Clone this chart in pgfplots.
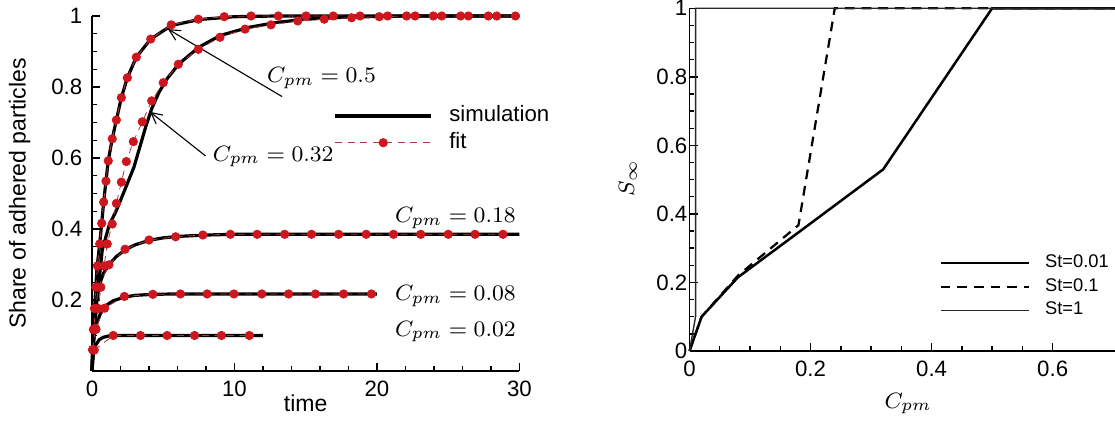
\documentclass[border=0pt]{standalone}
\usepackage{pgfplots}
\pgfplotsset{compat=1.18}
\usepackage{fontspec}
\setmainfont{Liberation Sans}
\usetikzlibrary{arrows.meta}
\definecolor{fitred}{RGB}{205,22,30}
\definecolor{fitline}{RGB}{170,60,60}

\pgfplotsset{
  tecaxis/.style={
    scale only axis,
    axis lines=left,
    axis line style={-, line width=0.7pt},
    every outer x axis line/.append style={-},
    every outer y axis line/.append style={-},
    tick align=inside,
    major tick length=3pt,
    minor tick length=1.7pt,
    every tick/.style={black, line width=0.5pt},
    /pgf/number format/assume math mode=true,
    tick label style={font=\fontsize{8}{9}\selectfont},
    clip=false,
  },
  sim/.style={black, line width=1.15pt},
  fit/.style={fitline, line width=0.3pt, dash pattern=on 2.5pt off 2pt,
    mark=*, mark size=1.5pt, mark options={solid, draw=fitred, fill=fitred}},
}

\begin{document}
\begin{tikzpicture}
\useasboundingbox (0,0) rectangle (401.4pt,151.56pt);
\clip (0,0) rectangle (401.4pt,151.56pt);

% left: share of adhered particles over time
\begin{axis}[tecaxis,
  at={(33.12pt,18pt)}, anchor=south west,
  width=153.9pt, height=127.8pt,
  xmin=0, xmax=30, ymin=0, ymax=1,
  xtick={0,10,20,30}, minor x tick num=4,
  ytick={0,0.2,0.4,0.6,0.8,1}, yticklabels={,0.2,0.4,0.6,0.8,1}, minor y tick num=3,
  xlabel={time}, ylabel={Share of adhered particles},
  xlabel style={at={(axis description cs:0.5,-0.092)}, anchor=center, font=\fontsize{8.3}{10}\selectfont},
  ylabel style={at={(axis description cs:-0.169,0.5)}, anchor=center, font=\fontsize{8.3}{10}\selectfont},
  legend style={at={(axis cs:16.35,0.765)}, anchor=north west, draw=none, fill=none,
    font=\fontsize{8}{9}\selectfont, column sep=6pt, row sep=2pt,
    nodes={inner sep=0pt, text height=5.8pt, text depth=1.8pt}},
  legend cell align=left,
  legend image code/.code={\draw[mark repeat=2,mark phase=2,#1] plot coordinates {(0pt,0pt) (17.2pt,0pt) (34.4pt,0pt)};},
]
% C_pm = 0.5
\addplot[sim] coordinates {(0,0) (0.05,0.06) (0.1,0.11) (0.2,0.19) (0.35,0.29) (0.54,0.358) (0.68,0.416) (0.82,0.476) (0.98,0.535) (1.14,0.592) (1.42,0.654) (1.71,0.707) (2.06,0.77) (2.48,0.826) (3.11,0.884) (4.12,0.935) (5.56,0.973) (7.5,0.99) (10,0.998) (13,1) (30,1)};
\addlegendentry{simulation}
\addplot[fit] coordinates {(0.05,0.06) (0.1,0.117) (0.17,0.176) (0.27,0.236) (0.38,0.296) (0.54,0.358) (0.68,0.416) (0.82,0.476) (0.98,0.535) (1.14,0.592) (1.42,0.654) (1.71,0.707) (2.06,0.77) (2.48,0.826) (3.11,0.884) (4.12,0.935) (5.56,0.975) (7.46,0.991) (9.28,0.998) (11.16,1) (13.07,1) (15.02,1) (16.93,1) (18.81,1) (20.75,1) (22.67,1) (24.54,1) (26.41,1) (28.4,1)};
\addlegendentry{fit}
% C_pm = 0.32
\addplot[sim, forget plot] coordinates {(0,0) (0.15,0.1) (0.35,0.2) (0.72,0.341) (1.2,0.41) (1.73,0.454) (2.4,0.52) (2.95,0.575) (3.35,0.63) (3.77,0.688) (4.2,0.74) (4.7,0.785) (5.3,0.825) (6.1,0.865) (7.5,0.912) (9,0.945) (11,0.968) (13,0.982) (15,0.991) (18,0.997) (22,1) (30,1)};
\addplot[fit, forget plot] coordinates {(0.1,0.06) (0.28,0.117) (0.45,0.176) (0.62,0.236) (0.85,0.296) (1.07,0.358) (1.42,0.414) (1.71,0.472) (2.06,0.532) (2.41,0.59) (2.9,0.646) (3.53,0.702) (4.19,0.761) (5.0,0.812) (6.06,0.864) (7.46,0.906) (8.98,0.94) (10.74,0.963) (12.56,0.975) (14.44,0.986) (16.3,0.991) (18.22,0.995) (20.16,0.998) (22.08,1) (23.95,1) (25.87,1) (27.81,1) (29.71,1)};
% C_pm = 0.18
\addplot[sim, forget plot] coordinates {(0,0) (0.05,0.07) (0.12,0.12) (0.25,0.18) (0.5,0.24) (0.8,0.275) (1.2,0.3) (1.7,0.322) (2.32,0.341) (3,0.355) (4,0.368) (5,0.375) (6,0.379) (8,0.383) (10,0.385) (30,0.385)};
\addplot[fit, forget plot] coordinates {(0.05,0.06) (0.12,0.117) (0.25,0.176) (0.45,0.236) (1.19,0.299) (2.32,0.343) (4.0,0.369) (5.87,0.378) (7.78,0.383) (9.71,0.385) (11.59,0.385) (13.52,0.385) (15.4,0.385) (17.31,0.385) (19.24,0.385) (21.16,0.385) (23.07,0.385) (25.0,0.385) (26.88,0.385) (28.84,0.385)};
% C_pm = 0.08
\addplot[sim, forget plot] coordinates {(0,0) (0.05,0.06) (0.15,0.1) (0.3,0.13) (0.6,0.163) (1,0.185) (1.5,0.198) (2.27,0.208) (3,0.213) (4.27,0.216) (6,0.217) (20,0.217)};
\addplot[fit, forget plot] coordinates {(0.05,0.06) (0.25,0.12) (0.89,0.177) (2.27,0.21) (4.27,0.216) (6.2,0.217) (8.08,0.217) (9.96,0.217) (11.92,0.217) (13.8,0.217) (15.68,0.217) (17.66,0.217) (19.61,0.217)};
% C_pm = 0.02
\addplot[sim, forget plot] coordinates {(0,0) (0.1,0.05) (0.25,0.072) (0.5,0.088) (0.8,0.095) (1.2,0.099) (2,0.1) (12,0.1)};
\addplot[fit, forget plot] coordinates {(0.16,0.059) (1.49,0.1) (3.4,0.1) (5.27,0.1) (7.2,0.1) (9.08,0.1) (11.04,0.1)};

\draw[line width=0.4pt, -{Straight Barb[length=4pt, width=4pt]}] (axis cs:13.34,0.773) -- (axis cs:5.33,0.963);
\draw[line width=0.4pt, -{Straight Barb[length=4pt, width=4pt]}] (axis cs:7.96,0.606) -- (axis cs:4.07,0.73);
\begin{scope}[every node/.style={font=\fontsize{8.5}{10}\selectfont, inner sep=0pt}]
\node at (axis cs:16.1,0.825) {$C_{pm}=0.5$};
\node at (axis cs:12.72,0.604) {$C_{pm}=0.32$};
\node at (axis cs:25.5,0.43) {$C_{pm}=0.18$};
\node at (axis cs:25.5,0.211) {$C_{pm}=0.08$};
\node at (axis cs:25.5,0.111) {$C_{pm}=0.02$};
\end{scope}
\end{axis}

% right: S_infinity against C_pm
\begin{axis}[tecaxis,
  at={(248.22pt,25.2pt)}, anchor=south west,
  width=153.18pt, height=123.37pt,
  xmin=0, xmax=0.703, ymin=0, ymax=1,
  xtick={0,0.2,0.4,0.6}, ytick={0,0.2,0.4,0.6,0.8,1},
  minor x tick num=3, minor y tick num=3,
  yticklabel style={inner sep=0.6pt},
  xlabel={$C_{pm}$}, ylabel={$S_\infty$},
  xlabel style={at={(axis description cs:0.514,-0.153)}, anchor=center, font=\fontsize{8.3}{10}\selectfont},
  ylabel style={at={(axis description cs:-0.145,0.504)}, anchor=center, font=\fontsize{8.3}{10}\selectfont},
  legend style={at={(axis cs:0.398,0.30)}, anchor=north west, draw=none, fill=none,
    font=\fontsize{6.6}{8}\selectfont, column sep=5.5pt, row sep=2.2pt,
    nodes={inner sep=0pt, text height=4.8pt, text depth=1.5pt}},
  legend cell align=left,
  legend image code/.code={\draw[#1] (0pt,0pt) -- (31.7pt,0pt);},
]
\addplot[black, line width=0.9pt] coordinates {(0,0) (0.02,0.1) (0.08,0.215) (0.18,0.346) (0.32,0.53) (0.5,1) (0.703,1)};
\addlegendentry{St=0.01}
\addplot[black, line width=0.8pt, dash pattern=on 3.5pt off 2.5pt] coordinates {(0,0) (0.02,0.1) (0.08,0.22) (0.18,0.367) (0.24,1) (0.703,1)};
\addlegendentry{St=0.1}
\addplot[black!85, line width=0.5pt] coordinates {(0,0) (0.01,0.1) (0.01,1) (0.703,1)};
\addlegendentry{St=1}
\end{axis}
\end{tikzpicture}
\end{document}
